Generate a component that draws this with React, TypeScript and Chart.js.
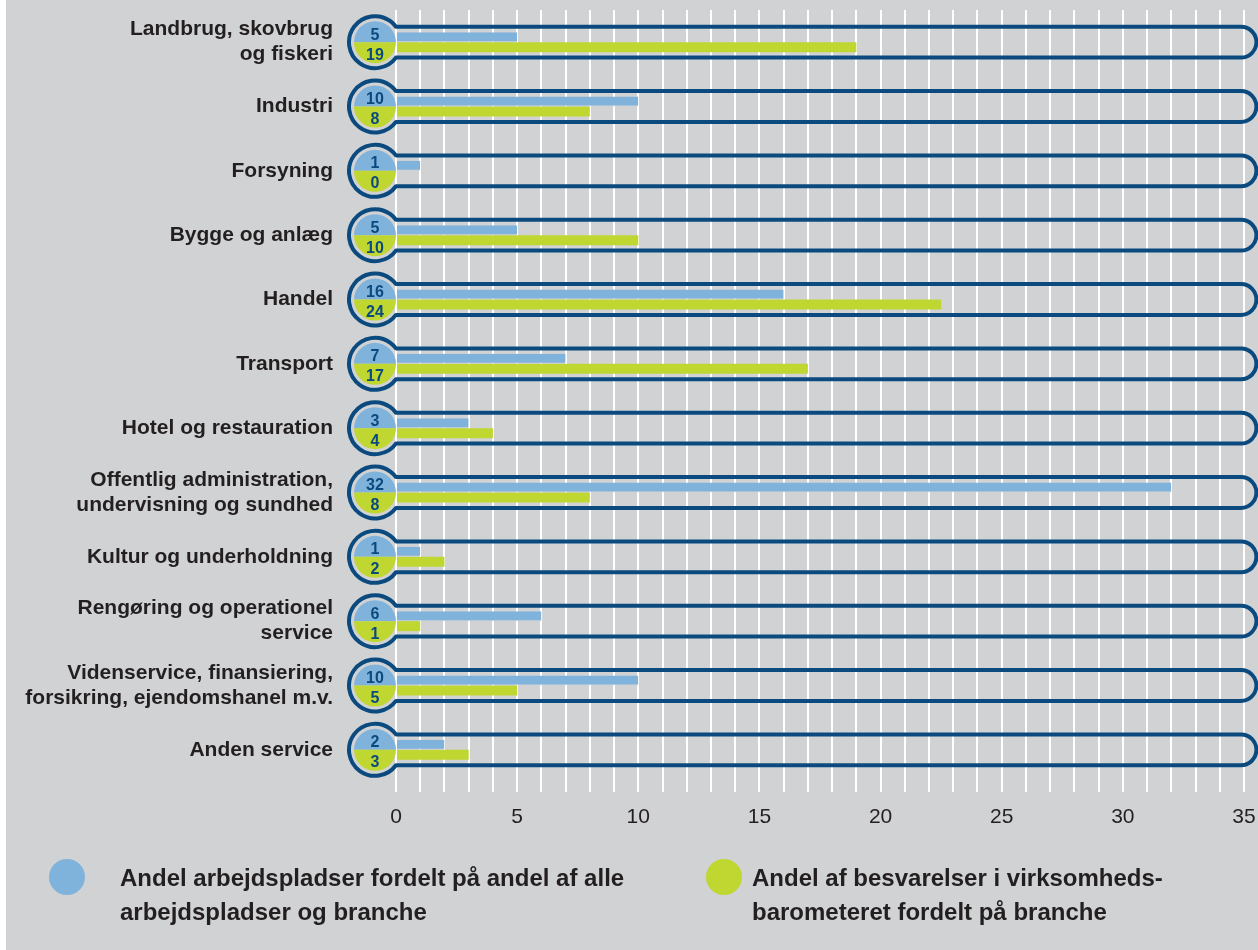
import React, { useEffect, useRef } from "react";
import { Chart, registerables } from "chart.js";

Chart.register(...registerables);

const categories: (string | string[])[] = [
  ["Landbrug, skovbrug", "og fiskeri"],
  "Industri",
  "Forsyning",
  "Bygge og anlæg",
  "Handel",
  "Transport",
  "Hotel og restauration",
  ["Offentlig administration,", "undervisning og sundhed"],
  "Kultur og underholdning",
  ["Rengøring og operationel", "service"],
  ["Videnservice, finansiering,", "forsikring, ejendomshanel m.v."],
  "Anden service",
];

// Blue series: share of workplaces (bar length and printed value)
const jobBars = [5, 10, 1, 5, 16, 7, 3, 32, 1, 6, 10, 2];
const jobLabels = [5, 10, 1, 5, 16, 7, 3, 32, 1, 6, 10, 2];
// Green series: share of survey answers (bar length as drawn, and printed value)
const surveyBars = [19, 8, 0, 10, 22.5, 17, 4, 8, 2, 1, 5, 3];
const surveyLabels = [19, 8, 0, 10, 24, 17, 4, 8, 2, 1, 5, 3];

const xMin = 0;
const xMax = 35;
const xLabelStep = 5;

const legendLabels = [
  ["Andel arbejdspladser fordelt på andel af alle", "arbejdspladser og branche"],
  ["Andel af besvarelser i virksomheds-", "barometeret fordelt på branche"],
];

const BG = "#d1d2d4";
const BLUE = "#80b3dc";
const GREEN = "#bfd730";
const NAVY = "#0b4a7f";
const TEXT = "#231f20";
const FONT = '"Liberation Sans", Arial, Helvetica, sans-serif';

export default function App() {
  const ref = useRef<HTMLCanvasElement | null>(null);

  useEffect(() => {
    const canvas = ref.current;
    if (!canvas) return;

    const decor = {
      id: "decor",
      beforeDraw(chart: any) {
        const { ctx, width, height } = chart;
        ctx.save();
        ctx.fillStyle = "#ffffff";
        ctx.fillRect(0, 0, width, height);
        ctx.fillStyle = BG;
        ctx.fillRect(6, 0, width - 6, height);
        ctx.restore();
      },
      beforeDatasetsDraw(chart: any) {
        const { ctx, chartArea } = chart;
        const y = chart.scales.y;
        const cx = 375;
        const R = 26;
        const h = 15.4;
        const xr = chartArea.right - 3;
        ctx.save();
        categories.forEach((_, i) => {
          const cy = y.getPixelForValue(i);
          // inner two-colour disc
          ctx.beginPath();
          ctx.moveTo(cx, cy);
          ctx.arc(cx, cy, 21, Math.PI, 2 * Math.PI);
          ctx.closePath();
          ctx.fillStyle = BLUE;
          ctx.fill();
          ctx.beginPath();
          ctx.moveTo(cx, cy);
          ctx.arc(cx, cy, 21, 0, Math.PI);
          ctx.closePath();
          ctx.fillStyle = GREEN;
          ctx.fill();
          // ring + capsule outline
          const a = Math.asin(h / R);
          const xj = cx + R * Math.cos(a);
          ctx.beginPath();
          ctx.moveTo(xj, cy - h);
          ctx.lineTo(xr, cy - h);
          ctx.arc(xr, cy, h, -Math.PI / 2, Math.PI / 2);
          ctx.lineTo(xj, cy + h);
          ctx.arc(cx, cy, R, a, 2 * Math.PI - a);
          ctx.closePath();
          ctx.lineWidth = 4;
          ctx.strokeStyle = NAVY;
          ctx.lineJoin = "round";
          ctx.stroke();
        });
        ctx.restore();
      },
      afterDraw(chart: any) {
        const { ctx } = chart;
        const y = chart.scales.y;
        ctx.save();
        // category labels
        ctx.fillStyle = TEXT;
        ctx.font = `bold 21px ${FONT}`;
        ctx.textAlign = "right";
        ctx.textBaseline = "middle";
        const lh = 25;
        categories.forEach((c, i) => {
          const cy = y.getPixelForValue(i);
          const lines = Array.isArray(c) ? c : [c];
          const start = cy - ((lines.length - 1) * lh) / 2;
          lines.forEach((ln, k) => ctx.fillText(ln, 333, start + k * lh));
        });
        // circle numbers
        ctx.fillStyle = NAVY;
        ctx.font = `bold 16px ${FONT}`;
        ctx.textAlign = "center";
        ctx.textBaseline = "alphabetic";
        categories.forEach((_, i) => {
          const cy = y.getPixelForValue(i);
          ctx.fillText(String(jobLabels[i]), 375, cy - 2.5);
          ctx.fillText(String(surveyLabels[i]), 375, cy + 17.5);
        });
        // legend
        const items = [
          { color: BLUE, cx: 67, tx: 120, lines: legendLabels[0] },
          { color: GREEN, cx: 724, tx: 752, lines: legendLabels[1] },
        ];
        items.forEach((it) => {
          ctx.beginPath();
          ctx.arc(it.cx, 877, 18, 0, 2 * Math.PI);
          ctx.fillStyle = it.color;
          ctx.fill();
          ctx.fillStyle = TEXT;
          ctx.font = `bold 24px ${FONT}`;
          ctx.textAlign = "left";
          ctx.textBaseline = "alphabetic";
          it.lines.forEach((ln, k) => ctx.fillText(ln, it.tx, 886 + k * 34));
        });
        ctx.restore();
      },
    };

    const chart = new Chart(canvas, {
      type: "bar",
      data: {
        labels: categories.map((c) => (Array.isArray(c) ? c.join(" ") : c)),
        datasets: [
          {
            label: legendLabels[0].join(" "),
            data: jobBars,
            backgroundColor: BLUE,
            borderColor: BG,
            borderWidth: { top: 0, right: 0, bottom: 1, left: 0 },
            borderSkipped: false,
            barThickness: 10,
            inflateAmount: 0,
          },
          {
            label: legendLabels[1].join(" "),
            data: surveyBars,
            backgroundColor: GREEN,
            borderWidth: 0,
            barThickness: 10,
            inflateAmount: 0,
          },
        ],
      },
      plugins: [decor],
      options: {
        indexAxis: "y",
        responsive: false,
        maintainAspectRatio: false,
        animation: false,
        layout: { padding: { left: 396, right: 14, top: 10, bottom: 108 } },
        plugins: {
          legend: { display: false },
          tooltip: { enabled: false },
        },
        scales: {
          x: {
            min: xMin,
            max: xMax,
            position: "bottom",
            z: 1,
            border: { display: false },
            grid: {
              color: "#ffffff",
              lineWidth: 2,
              drawTicks: true,
              tickLength: 10,
              tickColor: "#ffffff",
            },
            ticks: {
              stepSize: 1,
              autoSkip: false,
              maxRotation: 0,
              padding: 13,
              color: TEXT,
              font: { family: FONT, size: 21 },
              callback: (v: any) => (Number(v) % xLabelStep === 0 ? String(v) : ""),
            },
            afterFit: (s: any) => {
              s.height = 60;
              s.paddingLeft = 0;
              s.paddingRight = 0;
            },
          },
          y: {
            display: false,
            grid: { display: false },
          },
        },
      } as any,
    });

    return () => chart.destroy();
  }, []);

  return (
    <div style={{ position: "absolute", left: 0, top: 0, width: 1258, height: 950 }}>
      <canvas ref={ref} width={1258} height={950} style={{ display: "block", width: 1258, height: 950 }} />
    </div>
  );
}
